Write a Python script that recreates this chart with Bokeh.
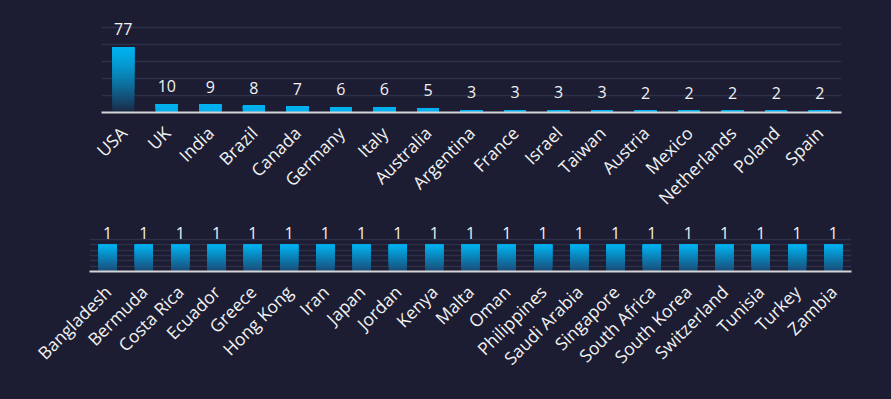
from math import pi
from bokeh.plotting import figure
from bokeh.models import (ColumnDataSource, LabelSet, FixedTicker, Range1d,
                          GlobalInlineStyleSheet)
from bokeh.core.properties import value
from bokeh.layouts import column
from bokeh.embed import file_html
from bokeh.resources import INLINE

# ---------------- data ----------------
top_countries = ["USA", "UK", "India", "Brazil", "Canada", "Germany", "Italy",
                 "Australia", "Argentina", "France", "Israel", "Taiwan",
                 "Austria", "Mexico", "Netherlands", "Poland", "Spain"]
top_counts = [77, 10, 9, 8, 7, 6, 6, 5, 3, 3, 3, 3, 2, 2, 2, 2, 2]

bottom_countries = ["Bangladesh", "Bermuda", "Costa Rica", "Ecuador", "Greece",
                    "Hong Kong", "Iran", "Japan", "Jordan", "Kenya", "Malta",
                    "Oman", "Philippines", "Saudi Arabia", "Singapore",
                    "South Africa", "South Korea", "Switzerland", "Tunisia",
                    "Turkey", "Zambia"]
bottom_counts = [1, 1, 1, 1, 1, 1, 1, 1, 1, 1, 1, 1, 1, 1, 1, 1, 1, 1, 1, 1, 1]

top_ticks = [0, 20, 40, 60, 80, 100]
bottom_ticks = [0, 0.2, 0.4, 0.6, 0.8, 1.0, 1.2]

# ---------------- style ----------------
BG = "#1c1d33"
GRID = "#2d3047"
AXIS = "#d4d4d8"
TXT = "#f2f2f2"
FONT = "Open Sans"
BAR_TOP = (0, 178, 240)


def hexc(rgb):
    return "#%02x%02x%02x" % tuple(int(round(c)) for c in rgb)


def lerp(a, b, t):
    t = max(0.0, min(1.0, t))
    return tuple(a[i] + (b[i] - a[i]) * t for i in range(3))


def gradient_source(cats, vals, span, bottom_rgb, n=40, ease=1.0):
    # each slice runs from its own bottom to the bar top; later slices are
    # drawn over earlier ones, so no seams appear between slices
    xs, b0, b1, cols = [], [], [], []
    for c, v in zip(cats, vals):
        for i in range(n):
            y0 = v * i / n
            mid = v * (i + 0.5) / n
            t = ((v - mid) / span) ** ease
            xs.append(c)
            b0.append(y0)
            b1.append(v)
            cols.append(hexc(lerp(BAR_TOP, bottom_rgb, t)))
    return ColumnDataSource(dict(x=xs, bottom=b0, top=b1, color=cols))


def make_fig(cats, vals, ticks, yend, fw, fh, left, right, top, bottom,
             span, bottom_rgb, ease, label_off):
    p = figure(x_range=cats, y_range=Range1d(0, yend),
               frame_width=fw, frame_height=fh,
               min_border_left=left, min_border_right=right,
               min_border_top=top, min_border_bottom=bottom,
               output_backend="svg", toolbar_location=None)
    p.frame_align = False
    p.background_fill_color = BG
    p.border_fill_color = BG
    p.outline_line_color = None
    p.xgrid.grid_line_color = None
    p.ygrid.ticker = FixedTicker(ticks=ticks)
    p.ygrid.grid_line_color = GRID
    p.ygrid.grid_line_width = 1.5
    p.yaxis.visible = False

    src = gradient_source(cats, vals, span, bottom_rgb, ease=ease)
    p.vbar(x="x", bottom="bottom", top="top", width=0.5, source=src,
           fill_color="color", line_color=None)

    lsrc = ColumnDataSource(dict(x=cats, y=vals, t=[str(v) for v in vals]))
    p.add_layout(LabelSet(x="x", y="y", text="t", source=lsrc,
                          y_offset=label_off, text_align="center",
                          text_baseline="alphabetic", text_color=TXT,
                          text_font=value(FONT), text_font_size="16px"))

    ax = p.xaxis[0]
    ax.axis_line_color = AXIS
    ax.axis_line_width = 2
    ax.major_tick_line_color = None
    ax.minor_tick_line_color = None
    ax.major_label_orientation = pi / 4
    ax.major_label_text_color = TXT
    ax.major_label_text_font = FONT
    ax.major_label_text_font_size = "17.5px"
    ax.major_label_standoff = 11
    return p


# top chart: 85 px per 100 units; frame extended upward for value labels
p1 = make_fig(top_countries, top_counts, top_ticks, 100 * 100 / 85, 740, 100,
              101, 42, 12, 110, 77, (27, 40, 68), 1.3, 12)
# bottom chart: 32 px per 1.2 units; frame extended upward for value labels
p2 = make_fig(bottom_countries, bottom_counts, bottom_ticks, 1.2 * 45 / 32,
              762, 45, 89, 32, 4, 105, 1.0, (26, 76, 118), 1.0, 6)

css = GlobalInlineStyleSheet(
    css="html, body { background: %s; margin: 0; padding: 0; }" % BG)
layout = column(p1, p2, spacing=0, stylesheets=[css])

open("out.html", "w").write(file_html(layout, INLINE))
